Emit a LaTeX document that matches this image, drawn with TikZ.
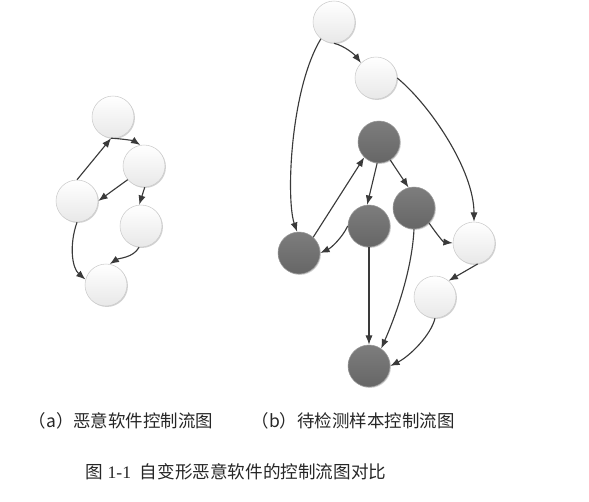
\documentclass[tikz,border=0pt]{standalone}
\usepackage{fontspec}
\setmainfont{Liberation Serif}
\newfontfamily\cjk{Noto Sans CJK SC}
\usetikzlibrary{arrows.meta,shadows}
\definecolor{edgecol}{HTML}{3A3A3A}
\tikzset{
  lightnode/.style={circle, minimum size=31.5pt, inner sep=0pt, draw=black!20, line width=0.4pt,
    top color=white, bottom color=black!9,
    drop shadow={shadow xshift=0.7pt, shadow yshift=-0.7pt, opacity=0.18, fill=black}},
  darknode/.style={circle, minimum size=31.5pt, inner sep=0pt, draw=black!40, line width=0.4pt,
    top color=black!51, bottom color=black!60,
    drop shadow={shadow xshift=0.7pt, shadow yshift=-0.7pt, opacity=0.18, fill=black}},
  arr/.style={draw=edgecol, line width=0.85pt, -{Latex[length=7pt,width=5.4pt]}},
  lbl/.style={inner sep=0pt, font=\cjk\fontsize{13.1pt}{15pt}\selectfont, text=black!85}
}
\begin{document}
\begin{tikzpicture}[x=0.75pt,y=-0.75pt]
\useasboundingbox (0,0) rectangle (589,501);
% (a)
\node[lightnode] (A1) at (113,117) {};
\node[lightnode] (A2) at (144,166) {};
\node[lightnode] (A3) at (77,201) {};
\node[lightnode] (A4) at (141,226) {};
\node[lightnode] (A5) at (106,285) {};
% (b)
\node[lightnode] (B1) at (334,22) {};
\node[lightnode] (B2) at (376,78) {};
\node[darknode]  (B3) at (379,142) {};
\node[darknode]  (B4) at (369,226) {};
\node[darknode]  (B5) at (414,208) {};
\node[darknode]  (B6) at (299,253) {};
\node[lightnode] (B7) at (474,243) {};
\node[lightnode] (B8) at (435,297) {};
\node[darknode]  (B9) at (369,366) {};
% edges (a)
\draw[arr] (A3.north) -- (A1.-95);
\draw[arr] (A1.-95) .. controls (125,139) and (134,141) .. (A2.100);
\draw[arr] (A2.220) -- (A3.east);
\draw[arr] (A2.-88) -- (A4.95);
\draw[arr] (A4.-95) .. controls (133,258) and (119,258) .. (A5.80);
\draw[arr] (A3.south) .. controls (69,245) and (72,268) .. (A5.165);
% edges (b)
\draw[arr] (B1.south) .. controls (345,46) and (355,55) .. (B2.135);
\draw[arr] (B1.232) .. controls (290,90) and (286,200) .. (B6.95);
\draw[arr] (B2.east) .. controls (430,105) and (474,170) .. (B7.north);
\draw[arr] (B6.48) -- (B3.226);
\draw[arr] (B3.-95) -- (B4.95);
\draw[arr] (B3.-58) -- (B5.105);
\draw[arr] (B4.west) .. controls (342,238) and (331,248) .. (B6.east);
\draw[arr] (B5.-45) .. controls (436,233) and (443,242) .. (B7.west);
\draw[arr] (B7.-80) -- (B8.50);
\draw[arr] (B4.south) -- (B9.north);
\draw[arr] (B5.south) .. controls (412,270) and (396,315) .. (B9.55);
\draw[arr] (B8.south) .. controls (431,335) and (410,356) .. (B9.east);
% labels
\node[lbl] (la) at (121,421) {（a）恶意软件控制流图};
\node[lbl] (lb) at (353,421) {（b）待检测样本控制流图};
\node[inner sep=0pt, text=black!85, font=\fontsize{13.2pt}{15pt}\selectfont] (cap) at (236,472) {{\cjk 图} 1-1\ \ {\cjk 自变形恶意软件的控制流图对比}};
\end{tikzpicture}
\end{document}
